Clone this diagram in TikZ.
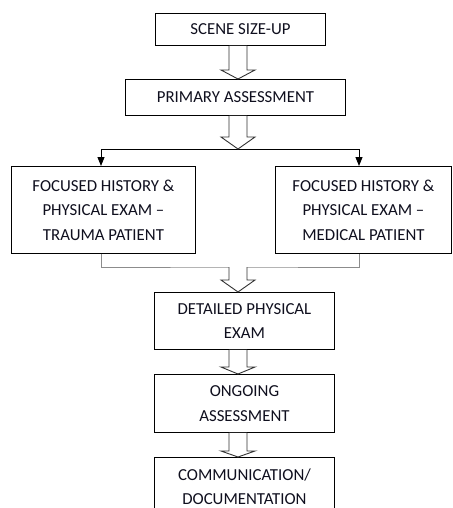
\documentclass[tikz,border=0pt]{standalone}
\usepackage{fontspec}
\setmainfont{Carlito}
\usetikzlibrary{arrows.meta,calc}
\definecolor{txt}{RGB}{15,15,30}
\definecolor{hollow}{RGB}{50,50,50}
\definecolor{joinline}{RGB}{140,140,140}
\tikzset{
  box/.style={draw=black, line width=0.9pt, fill=white, anchor=north west, align=center,
    inner sep=0pt, text=txt, font=\fontsize{16.8}{24.5}\selectfont},
  harr/.style={draw=hollow, line width=0.9pt, fill=white, line join=miter},
  fillarr/.style={draw=black, line width=0.9pt, -{Triangle[width=7pt,length=9pt]}},
  joinl/.style={draw=joinline, line width=1pt}
}
% hollow block arrow: #1 start coordinate, #2 end coordinate, #3 head length
\newcommand\hollowarrow[3]{%
  \path[harr] let \p1=(#1), \p2=(#2) in
    (\x1-9pt,\y1) -- (\x1-9pt,\y2+#3) -- (\x1-17pt,\y2+#3) -- (\x1,\y2)
    -- (\x1+17pt,\y2+#3) -- (\x1+9pt,\y2+#3) -- (\x1+9pt,\y1);
}
\begin{document}
\begin{tikzpicture}[x=1pt,y=-1pt]
\useasboundingbox (0,0) rectangle (452,508);
\fill[white] (0,0) rectangle (452,508);
\clip (0,0) rectangle (452,508);

\node[box, minimum width=170pt, minimum height=32pt] (b1) at (155,13) {SCENE SIZE-UP};
\node[box, minimum width=220pt, minimum height=36pt] (b2) at (125,79) {PRIMARY ASSESSMENT};
\node[box, minimum width=184pt, minimum height=87pt] (b3) at (11,166) {FOCUSED HISTORY \&\\PHYSICAL EXAM –\\TRAUMA PATIENT};
\node[box, minimum width=176pt, minimum height=87pt] (b4) at (275,166) {FOCUSED HISTORY \&\\PHYSICAL EXAM –\\MEDICAL PATIENT};
\node[box, minimum width=180pt, minimum height=57pt] (b5) at (154,292) {DETAILED PHYSICAL\\EXAM};
\node[box, minimum width=180pt, minimum height=58pt] (b6) at (154,374) {ONGOING\\ASSESSMENT};
\node[box, minimum width=180pt, minimum height=59pt] (b7) at (154,457) {COMMUNICATION/\\DOCUMENTATION};

\coordinate (split) at (238,149);
\coordinate (merge) at (238,267);

% split to the two focused boxes
\draw[fillarr] (split) -| (101,0 |- b3.north);
\draw[fillarr] (split) -| (359,0 |- b4.north);

% join line from the two focused boxes
\draw[joinl] (101,0 |- b3.south) |- (merge) -| (359,0 |- b4.south);

% hollow arrows
\hollowarrow{238,0 |- b1.south}{238,0 |- b2.north}{9pt}
\hollowarrow{238,0 |- b2.south}{split}{12pt}
\hollowarrow{merge}{238,0 |- b5.north}{12pt}
\hollowarrow{238,0 |- b5.south}{238,0 |- b6.north}{7pt}
\hollowarrow{238,0 |- b6.south}{238,0 |- b7.north}{6pt}
\end{tikzpicture}
\end{document}
